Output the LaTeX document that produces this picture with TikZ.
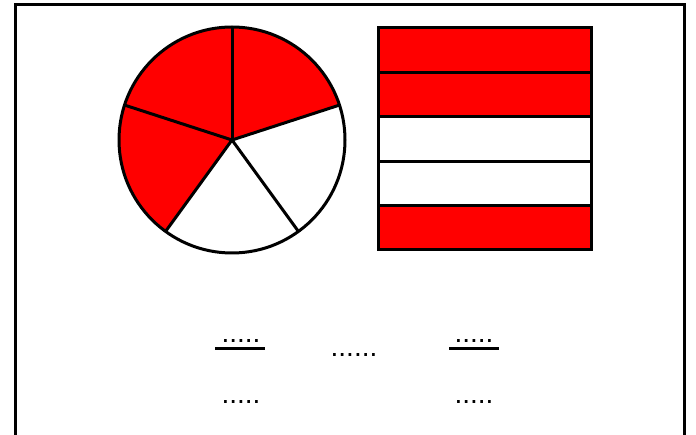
\documentclass[tikz,border=0pt]{standalone}
\usepackage{fontspec}
\setmainfont{Liberation Sans}
\definecolor{pie}{HTML}{FF0000}
\begin{document}
\begin{tikzpicture}[x=1pt,y=-1pt,
  outline/.style={draw=black,line width=3pt},
  thin/.style={draw=black,line width=3pt},
  dotstext/.style={inner sep=0pt,anchor=base,font=\fontsize{28}{30}\selectfont},
  fracbar/.style={draw=black,line width=3pt}]
\useasboundingbox (0,0) rectangle (696,435);
\clip (0,0) rectangle (696,435);
\fill[white] (0,0) rectangle (696,435);
% frame
\draw[outline] (15,5) rectangle (684.5,445);
% pie
\coordinate (c) at (232,140);
\begin{scope}[shift={(c)},yscale=-1]
\fill[pie] (0,0) -- (90:113) arc[start angle=90,end angle=234,radius=113] -- cycle;
\fill[pie] (0,0) -- (18:113) arc[start angle=18,end angle=90,radius=113] -- cycle;
\foreach \a in {18,90,162,234,306} \draw[thin] (0,0) -- (\a:113);
\draw[thin] (0,0) circle[radius=113];
\end{scope}
% stripes
\foreach \i/\col in {0/pie,1/pie,2/white,3/white,4/pie}
  \filldraw[fill=\col,thin] (378,28+44.4*\i) rectangle (591,28+44.4*\i+44.4);
% texts
\node[dotstext] (n1) at (241,343) {.....};
\draw[fracbar] (215,349) -- (265,349);
\node[dotstext] (d1) at (241,403) {.....};
\node[dotstext] (m) at (354,357) {......};
\node[dotstext] (n2) at (474,343) {.....};
\draw[fracbar] (449,349) -- (499,349);
\node[dotstext] (d2) at (474,403) {.....};
\end{tikzpicture}
\end{document}
